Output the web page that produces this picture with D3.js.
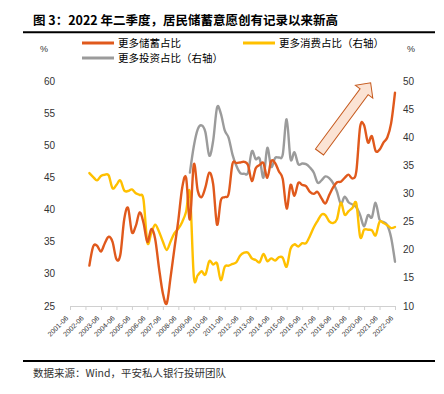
<!DOCTYPE html>
<html>
<head>
<meta charset="utf-8">
<script src="https://cdn.jsdelivr.net/npm/d3@7/dist/d3.min.js"></script>
<style>
  body { margin: 0; background: #fff; }
  svg { display: block; }
</style>
</head>
<body>
<div id="chart"></div>
<script>
// quarterly survey data, 2002Q3 .. 2022Q2
const firstQuarter = new Date(2002, 8, 30);

// 更多储蓄占比 (left axis)
const savings = [
  31.3, 34.3, 34.4, 33.5, 34.8, 35.8, 35.0, 32.3, 33.0, 38.5,
  40.3, 36.5, 37.5, 39.6, 38.0, 35.0, 37.0, 35.5, 31.0, 27.0,
  25.4, 29.5, 34.0, 38.4, 43.5, 45.0, 38.5, 47.1, 43.0, 42.0,
  43.5, 45.8, 44.0, 37.7, 41.5, 42.0, 42.5, 47.2, 47.3, 47.4,
  47.5, 47.0, 44.5, 46.5, 47.0, 47.3, 45.0, 47.6, 47.3, 46.0,
  44.8, 40.2, 43.9, 42.2, 44.2, 43.9, 43.7, 42.8, 42.5, 42.8,
  41.8, 41.0, 42.3, 43.5, 44.3, 44.4, 45.0, 45.5, 44.9, 46.0,
  53.0, 53.2, 50.5, 51.5, 49.2, 49.4, 50.5, 51.3, 53.5, 58.3
];

// 更多消费占比 (right axis)
const consumption = [
  33.7, 33.0, 32.4, 33.2, 33.4, 33.3, 31.0, 31.6, 32.4, 30.6,
  30.5, 30.8, 30.1, 29.8, 29.0, 21.3, 23.0, 24.5, 23.3, 21.5,
  20.0, 21.5, 23.0, 23.8, 25.0, 26.8, 30.2, 15.3, 15.5, 16.2,
  15.6, 18.0, 17.4, 17.6, 14.6, 17.0, 17.2, 17.5, 17.8, 19.0,
  19.5, 19.5, 18.5, 18.2, 17.8, 19.3, 18.0, 18.5, 18.1, 18.7,
  18.6, 17.0, 20.2, 21.0, 20.6, 21.2, 21.2, 22.5, 24.0, 25.2,
  26.3, 26.2, 25.1, 24.8, 25.5, 28.4, 26.3, 26.9, 27.5, 28.3,
  22.3, 23.6, 23.6, 23.5, 22.6, 25.0, 24.8, 24.4, 23.9, 24.1
];

// 更多投资占比 (right axis), starts 2009Q1
const investStart = new Date(2009, 2, 30);
const investment = [
  33.8, 38.5, 41.5, 42.2, 41.0, 36.8, 39.5, 45.4, 44.3, 41.3,
  40.0, 37.0, 35.0, 33.7, 33.6, 33.8, 37.6, 36.2, 36.3, 32.9,
  38.2, 34.8, 36.4, 36.5, 37.0, 43.3, 36.2, 37.4, 35.3, 35.4,
  35.3, 34.7, 33.8, 32.0, 32.4, 33.1, 32.8, 31.9, 30.4, 28.2,
  29.5, 28.5, 28.1, 27.6, 26.2, 24.2, 26.2, 25.8, 28.4, 25.4,
  25.0, 24.4, 22.2, 17.9
];

const tickYears = d3.range(2001, 2023);
const leftTicks = [25, 30, 35, 40, 45, 50, 55, 60];
const rightTicks = [10, 15, 20, 25, 30, 35, 40, 45, 50];

const seriesNames = ['更多储蓄占比', '更多消费占比（右轴）', '更多投资占比（右轴）'];
const colors = ['#E0591C', '#FFC000', '#9B9B9B'];

const width = 444, height = 394;
const plot = { left: 70, right: 395, top: 81.7, bottom: 306 };

const numFont = '"Liberation Sans", Arial, sans-serif';
const cjkFont = '"Noto Sans CJK SC", sans-serif';

const quarters = savings.map((v, i) => d3.timeMonth.offset(firstQuarter, 3 * i));
const savingsData = savings.map((v, i) => ({ date: quarters[i], value: v }));
const consumptionData = consumption.map((v, i) => ({ date: quarters[i], value: v }));
const investQuarters = quarters.filter(d => d >= investStart);
const investmentData = investment.map((v, i) => ({ date: investQuarters[i], value: v }));

const x = d3.scaleTime()
  .domain([new Date(2001, 5, 30), new Date(2022, 5, 30)])
  .range([plot.left, plot.right]);
const yLeft = d3.scaleLinear().domain([25, 60]).range([plot.bottom, plot.top]);
const yRight = d3.scaleLinear().domain([10, 50]).range([plot.bottom, plot.top]);

const svg = d3.select('#chart').append('svg')
  .attr('width', width)
  .attr('height', height);

// title and rules
svg.append('text')
  .attr('x', 33).attr('y', 25)
  .style('font-family', cjkFont)
  .style('font-size', '12.5px')
  .style('font-weight', 'bold')
  .attr('fill', '#000')
  .text('图 3：2022 年二季度，居民储蓄意愿创有记录以来新高');

svg.append('line')
  .attr('x1', 23).attr('x2', 435).attr('y1', 32.3).attr('y2', 32.3)
  .attr('stroke', '#000').attr('stroke-width', 2);

svg.append('line')
  .attr('x1', 23).attr('x2', 435).attr('y1', 361).attr('y2', 361)
  .attr('stroke', '#000').attr('stroke-width', 2);

svg.append('text')
  .attr('x', 33).attr('y', 377)
  .style('font-family', cjkFont)
  .style('font-size', '10.5px')
  .attr('fill', '#333')
  .text('数据来源：Wind，平安私人银行投研团队');

// % units
svg.append('text').attr('x', 44).attr('y', 52)
  .attr('text-anchor', 'middle')
  .style('font-family', numFont).style('font-size', '9px').attr('fill', '#333')
  .text('%');
svg.append('text').attr('x', 411).attr('y', 52)
  .attr('text-anchor', 'middle')
  .style('font-family', numFont).style('font-size', '9px').attr('fill', '#333')
  .text('%');

// legend
const legendPos = [[82, 43], [243, 43], [82, 58]];
seriesNames.forEach((name, i) => {
  const [lx, ly] = legendPos[i];
  svg.append('line')
    .attr('x1', lx).attr('x2', lx + 32).attr('y1', ly).attr('y2', ly)
    .attr('stroke', colors[i]).attr('stroke-width', 3);
  svg.append('text')
    .attr('x', lx + 36).attr('y', ly).attr('dy', '0.35em')
    .style('font-family', cjkFont).style('font-size', '10.5px')
    .attr('fill', '#000')
    .text(name);
});

// y axes (labels only)
svg.append('g')
  .selectAll('text')
  .data(leftTicks)
  .join('text')
  .attr('x', 55)
  .attr('y', d => yLeft(d))
  .attr('dy', '0.35em')
  .attr('text-anchor', 'end')
  .style('font-family', numFont).style('font-size', '10px')
  .attr('fill', '#333')
  .text(d => d);

svg.append('g')
  .selectAll('text')
  .data(rightTicks)
  .join('text')
  .attr('x', 403)
  .attr('y', d => yRight(d))
  .attr('dy', '0.35em')
  .attr('text-anchor', 'start')
  .style('font-family', numFont).style('font-size', '10px')
  .attr('fill', '#333')
  .text(d => d);

// x axis
const tickDates = tickYears.map(y => new Date(y, 5, 30));
const xAxis = svg.append('g')
  .attr('transform', `translate(0,${plot.bottom})`)
  .call(d3.axisBottom(x).tickValues(tickDates).tickSize(4).tickSizeOuter(0).tickFormat(''));
xAxis.select('.domain').attr('stroke', '#D0D0D0');
xAxis.selectAll('.tick line').attr('stroke', '#D0D0D0');

svg.append('g')
  .selectAll('text')
  .data(tickDates)
  .join('text')
  .attr('transform', d => `translate(${x(d) - 3},${plot.bottom + 11}) rotate(-45)`)
  .attr('text-anchor', 'end')
  .attr('dy', '0.35em')
  .style('font-family', numFont).style('font-size', '7px')
  .attr('fill', '#333')
  .text(d => d3.timeFormat('%Y-%m')(d));

// lines
const curve = d3.curveCatmullRom.alpha(0);
const lineLeft = d3.line().x(d => x(d.date)).y(d => yLeft(d.value)).curve(curve);
const lineRight = d3.line().x(d => x(d.date)).y(d => yRight(d.value)).curve(curve);

const lines = svg.append('g').attr('fill', 'none')
  .attr('stroke-width', 2.4)
  .attr('stroke-linejoin', 'round')
  .attr('stroke-linecap', 'round');

lines.append('path').datum(investmentData)
  .attr('d', lineRight).attr('stroke', colors[2]);
lines.append('path').datum(consumptionData)
  .attr('d', lineRight).attr('stroke', colors[1]);
lines.append('path').datum(savingsData)
  .attr('d', lineLeft).attr('stroke', colors[0]);

// annotation arrow
const arrowLen = 86, shaft = 5, head = 10.8, headLen = 11;
const arrowPath = [
  [0, -shaft], [arrowLen - headLen, -shaft], [arrowLen - headLen, -head],
  [arrowLen, 0], [arrowLen - headLen, head], [arrowLen - headLen, shaft], [0, shaft]
];
svg.append('path')
  .attr('d', d3.line()(arrowPath) + 'Z')
  .attr('transform', 'translate(319.5,152) rotate(-53.5)')
  .attr('fill', '#FBE3D4')
  .attr('stroke', '#C65A1E')
  .attr('stroke-width', 1);
</script>
</body>
</html>
